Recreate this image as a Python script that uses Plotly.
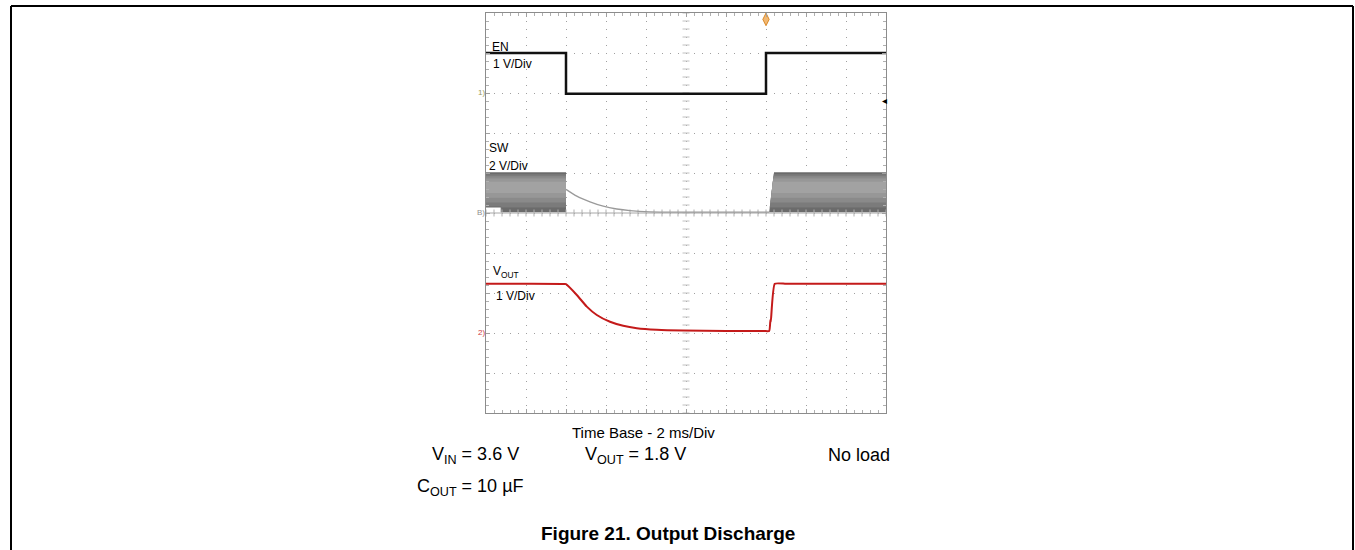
import numpy as np
import plotly.graph_objects as go

# ---- data (screen divisions: x 0..10 = 0..20 ms at 2 ms/div, y 0..10 divisions) ----
en_x = [0.0, 2.0, 2.0, 7.0, 7.0, 10.0]
en_y = [9.0, 9.0, 7.98, 7.98, 9.0, 9.0]

sw_left_x = [0.0, 2.0]          # switching burst before EN falls
sw_right_x = [7.08, 7.2, 10.0]  # switching burst after EN rises (slanted start)
sw_low, sw_high = 5.02, 6.02
sw_notch_x = [0.0, 0.38]
sw_notch_top = 5.15
sw_decay_x = [2.0, 2.27, 2.6, 2.93, 3.27, 3.6, 4.1, 4.77, 5.5, 7.08]
sw_decay_y = [5.59, 5.42, 5.28, 5.17, 5.10, 5.06, 5.03, 5.02, 5.02, 5.02]

vout_x = [0.0, 1.0, 1.97, 2.0, 2.27, 2.52, 2.77, 3.1, 3.43, 3.77, 4.27, 4.93, 6.0, 6.95, 7.08,
          7.11, 7.12, 7.22, 7.5, 8.5, 10.0]
vout_y = [3.23, 3.23, 3.225, 3.22, 2.95, 2.66, 2.45, 2.28, 2.18, 2.12, 2.08, 2.06, 2.05, 2.05, 2.05,
          2.33, 2.28, 3.23, 3.23, 3.23, 3.23]

# ---- layout geometry (page pixels) ----
W, H = 1355, 550
L, R, T, B = 486, 886, 13, 413


def px(x):
    return (x - L) / (R - L)


def py(y):
    return (B - y) / (B - T)


FONT = "Liberation Sans, Arial, sans-serif"

fig = go.Figure()

# SW band with a gradient look (nested fills)
band_layers = [(5.02, 6.02, "#6b6b6b"), (5.14, 5.97, "#7b7b7b"), (5.26, 5.92, "#8a8a8a"),
               (5.38, 5.86, "#979797"), (5.5, 5.78, "#a2a2a2")]
x0r, x1r = sw_right_x[0], sw_right_x[1]
for lo, hi, col in band_layers:
    fig.add_trace(go.Scatter(
        x=[sw_left_x[0], sw_left_x[1], sw_left_x[1], sw_left_x[0], sw_left_x[0]],
        y=[lo, lo, hi, hi, lo],
        fill="toself", fillcolor=col, line=dict(width=0), mode="lines",
        hoverinfo="skip", showlegend=False))
    xl = x0r + (x1r - x0r) * (lo - sw_low) / (sw_high - sw_low)
    xh = x0r + (x1r - x0r) * (hi - sw_low) / (sw_high - sw_low)
    fig.add_trace(go.Scatter(
        x=[xl, xh, sw_right_x[2], sw_right_x[2], xl], y=[lo, hi, hi, lo, lo],
        fill="toself", fillcolor=col, line=dict(width=0), mode="lines",
        hoverinfo="skip", showlegend=False))

# white notch at the lower-left of the first burst
fig.add_trace(go.Scatter(
    x=[sw_notch_x[0], sw_notch_x[1], sw_notch_x[1], sw_notch_x[0], sw_notch_x[0]],
    y=[sw_low - 0.02, sw_low - 0.02, sw_notch_top, sw_notch_top, sw_low - 0.02],
    fill="toself", fillcolor="#ffffff", line=dict(width=0), mode="lines",
    hoverinfo="skip", showlegend=False))
fig.add_trace(go.Scatter(
    x=[sw_notch_x[0], sw_notch_x[1], sw_notch_x[1]], y=[sw_notch_top, sw_notch_top, sw_low],
    mode="lines", line=dict(color="#6b6b6b", width=1), hoverinfo="skip", showlegend=False))

# center cross: horizontal axis line and tick marks on both center lines
ticks = np.arange(0, 10.01, 0.2)
fig.add_trace(go.Scatter(x=[0, 10], y=[5, 5], mode="lines",
                         line=dict(color="#a8a8a8", width=1), hoverinfo="skip", showlegend=False))
fig.add_trace(go.Scatter(x=ticks, y=[5] * len(ticks), mode="markers",
                         marker=dict(symbol="line-ns", size=5, line=dict(color="#b0b0b0", width=1)),
                         hoverinfo="skip", showlegend=False))
fig.add_trace(go.Scatter(x=[5] * len(ticks), y=ticks, mode="markers",
                         marker=dict(symbol="line-ew", size=5, line=dict(color="#c0c0c0", width=1)),
                         hoverinfo="skip", showlegend=False))

# SW decay after switching stops
fig.add_trace(go.Scatter(x=sw_decay_x, y=sw_decay_y, mode="lines", line_shape="spline",
                         line=dict(color="#9a9a9a", width=1.3, smoothing=0.6),
                         hoverinfo="skip", showlegend=False))

# EN
fig.add_trace(go.Scatter(x=en_x, y=en_y, mode="lines",
                         line=dict(color="#111111", width=2.5), hoverinfo="skip", showlegend=False))

# VOUT
fig.add_trace(go.Scatter(x=vout_x, y=vout_y, mode="lines", line_shape="spline",
                         line=dict(color="#c41a1a", width=2, smoothing=0.45),
                         hoverinfo="skip", showlegend=False))

# trigger position marker at top
fig.add_trace(go.Scatter(x=[7.0], y=[9.84], mode="markers",
                         marker=dict(symbol="diamond-tall", size=9, color="#f2b872",
                                     line=dict(color="#d98a2a", width=1)),
                         cliponaxis=False, hoverinfo="skip", showlegend=False))

ann = []


def text(x, y, s, size, xanchor="left", color="#000000", bold=False):
    ann.append(dict(x=px(x), y=py(y), xref="paper", yref="paper",
                    text=("<b>%s</b>" % s) if bold else s,
                    showarrow=False, xanchor=xanchor, yanchor="middle",
                    font=dict(family=FONT, size=size, color=color)))


text(490, 47, "EN", 12)
text(491, 64, "1 V/Div", 12)
text(487, 148, "SW", 12)
text(487, 166, "2 V/Div", 12)
text(491, 272, "V<sub>OUT</sub>", 12)
text(494, 296, "1 V/Div", 12)
text(487, 93, "1)", 8, xanchor="right", color="#9a9a5a")
text(487, 212, "B)", 8, xanchor="right", color="#909090")
text(487, 332, "2)", 8, xanchor="right", color="#d04040")
text(889, 101, "◂", 10, xanchor="right", color="#000000")

text(643, 432, "Time Base - 2 ms/Div", 15, xanchor="center")
text(430, 455, "V<sub>IN</sub> = 3.6 V", 18)
text(583, 455, "V<sub>OUT</sub> = 1.8 V", 18)
text(826, 455, "No load", 18)
text(415, 487, "C<sub>OUT</sub> = 10 µF", 18)
text(668, 533, "Figure 21. Output Discharge", 19, xanchor="center", bold=True)

shapes = [
    # outer figure frame (open at bottom)
    dict(type="line", xref="paper", yref="paper", x0=px(11), x1=px(1353), y0=py(6), y1=py(6),
         line=dict(color="#000000", width=2)),
    dict(type="line", xref="paper", yref="paper", x0=px(11), x1=px(11), y0=py(6), y1=py(560),
         line=dict(color="#000000", width=2)),
    dict(type="line", xref="paper", yref="paper", x0=px(1353), x1=px(1353), y0=py(6), y1=py(560),
         line=dict(color="#000000", width=2)),
]

axis_common = dict(
    range=[0, 10], dtick=1, showgrid=True, gridcolor="#a0a0a0", gridwidth=1, griddash="1px,7px",
    zeroline=False, showticklabels=False, showline=True, linecolor="#8c8c8c", linewidth=1,
    mirror="ticks", ticks="inside", ticklen=4, tickcolor="#a0a0a0",
    minor=dict(dtick=0.2, ticks="inside", ticklen=3, tickcolor="#b0b0b0", showgrid=False),
    fixedrange=True,
)

fig.update_layout(
    width=W, height=H,
    margin=dict(l=L, r=W - R, t=T, b=H - B, pad=0),
    paper_bgcolor="#ffffff", plot_bgcolor="#ffffff",
    xaxis=axis_common, yaxis=axis_common,
    annotations=ann, shapes=shapes, showlegend=False,
)

fig.write_html(
    "out.html",
    config={"displayModeBar": False},
    post_script="document.body.style.margin='0';document.body.style.overflow='hidden';",
)
